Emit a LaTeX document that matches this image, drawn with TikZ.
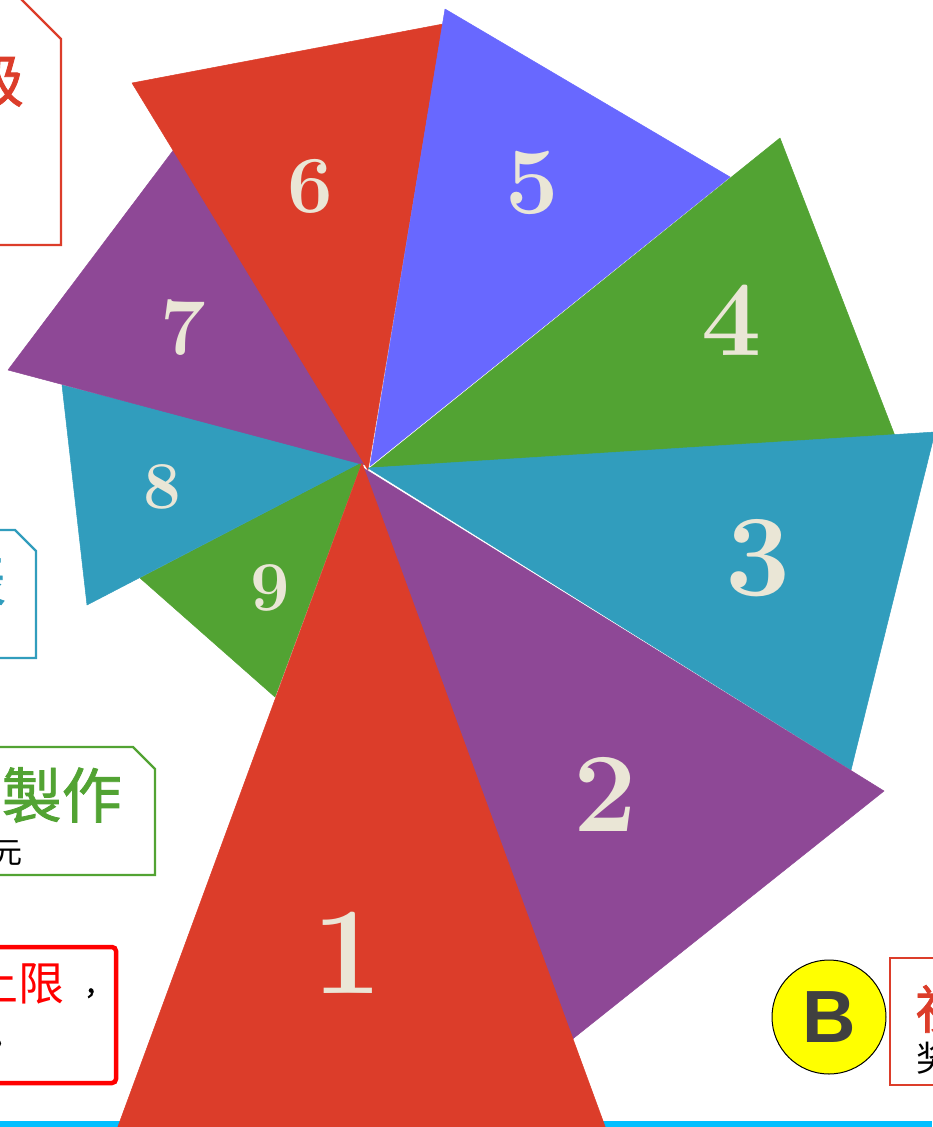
\documentclass[tikz,border=0pt]{standalone}
\usepackage{fontspec}
\newfontfamily\cjk{Noto Sans CJK SC}
\newfontfamily\cjkgras[FakeBold=1.4]{Noto Sans CJK SC}
\newfontfamily\sansgras{Liberation Sans}

% Couleurs
\definecolor{coulRouge}{RGB}{220,61,42}
\definecolor{coulBleu}{RGB}{104,104,255}
\definecolor{coulVert}{RGB}{82,163,51}
\definecolor{coulViolet}{RGB}{142,72,150}
\definecolor{coulTurquoise}{RGB}{49,157,189}
\definecolor{creme}{RGB}{234,230,214}
\definecolor{rougeVif}{RGB}{255,0,0}
\definecolor{cyanBande}{RGB}{0,191,255}
\definecolor{grisB}{RGB}{64,64,64}
\definecolor{jaune}{RGB}{255,255,0}

\tikzset{
  chiffre/.style={text=creme, inner sep=0pt},
  cadre/.style={line width=2.2pt},
  texte/.style={inner sep=0pt}
}

\begin{document}
\begin{tikzpicture}[x=1pt, y=-1pt]
    % Cadre de la page
    \useasboundingbox (0,0) rectangle (932,1127);
    \fill[white] (0,0) rectangle (932,1127);

    % Bande du bas
    \fill[cyanBande] (0,1120.5) rectangle (932,1127);

    % Secteurs: {sommet, coin 1, coin 2, couleur}
    \foreach \ax/\ay/\bx/\by/\cx/\cy/\coul in {
        362/462/140/578/275/697/coulVert,
        362/462/62/385/87/605/coulTurquoise,
        365/465/8/370/175/148/coulViolet,
        368/470/132/83/443/24/coulRouge,
        370/466/445/9/730/177/coulBleu,
        370/468/780/138/895/436/coulVert,
        368/468/935/432/851/770/coulTurquoise,
        360/466/884/791/565/1045/coulViolet,
        362/463/113/1140/610/1140/coulRouge} {
        \filldraw[fill=\coul, draw=\coul, line width=0.5pt, line join=round] (\ax,\ay) -- (\bx,\by) -- (\cx,\cy) -- cycle;
    }

    % Numeros des secteurs: {numero, x, y, taille}
    \foreach \n/\px/\py/\taille in {
        1/347/953/124, 2/605/794/113, 3/758/558/116,
        4/732/320/107, 5/532/183/95, 6/310/186/81,
        7/183/328/81, 8/162/487/67, 9/270/588/70} {
        \node[chiffre, font=\fontsize{\taille}{\taille}\selectfont\bfseries] (num\n) at (\px,\py) {\n};
    }

    % Cadre A (rouge)
    \draw[cadre, coulRouge] (12,-10) -- (61,39) -- (61,245) -- (-10,245);
    \node[texte, text=coulRouge, font=\cjkgras\fontsize{58}{58}\selectfont] (titreA) at (-5,80) {级};

    % Cadre B (turquoise)
    \draw[cadre, coulTurquoise] (-10,530) -- (15,530) -- (36,551) -- (36,658) -- (-10,658);
    \node[texte, text=coulTurquoise, font=\cjkgras\fontsize{58}{58}\selectfont] (titreB) at (-23,580) {表};

    % Cadre C (vert)
    \draw[cadre, coulVert] (-10,747) -- (133,747) -- (155,769) -- (155,875) -- (-10,875);
    \node[texte, text=coulVert, font=\cjkgras\fontsize{60}{60}\selectfont, anchor=east] (titreC) at (122,795) {製作};
    \node[texte, font=\cjk\fontsize{30}{30}\selectfont, anchor=east] (prixC) at (23,853) {元};

    % Cadre D (rouge vif)
    \draw[rounded corners=4pt, line width=4.5pt, rougeVif] (-10,947) -- (116,947) -- (116,1083) -- (-10,1083);
    \node[texte, text=rougeVif, font=\cjk\fontsize{46}{46}\selectfont, anchor=east] (titreD) at (65,983) {上限};
    \node[texte, font=\cjkgras\fontsize{28}{28}\selectfont, anchor=base west] (virguleD) at (84,995) {，};
    \node[texte, font=\cjkgras\fontsize{28}{28}\selectfont, anchor=base west] (pointD) at (-9,1046) {。};

    % Pastille B et cadre E
    \node[circle, fill=jaune, draw=black, line width=1pt, minimum size=114pt, inner sep=0pt,
          text=grisB, font=\sansgras\bfseries\fontsize{74}{74}\selectfont] (cercleB) at (829,1017) {B};
    \draw[line width=2.5pt, coulRouge] (945,958) -- (890,958) -- (890,1085) -- (945,1085);
    \node[texte, text=coulRouge, font=\cjkgras\fontsize{52}{52}\selectfont, anchor=west] (titreE) at (915,1009) {祝};
    \node[texte, font=\cjk\fontsize{35}{35}\selectfont, anchor=west] (prixE) at (916,1058) {奖};
\end{tikzpicture}
\end{document}
